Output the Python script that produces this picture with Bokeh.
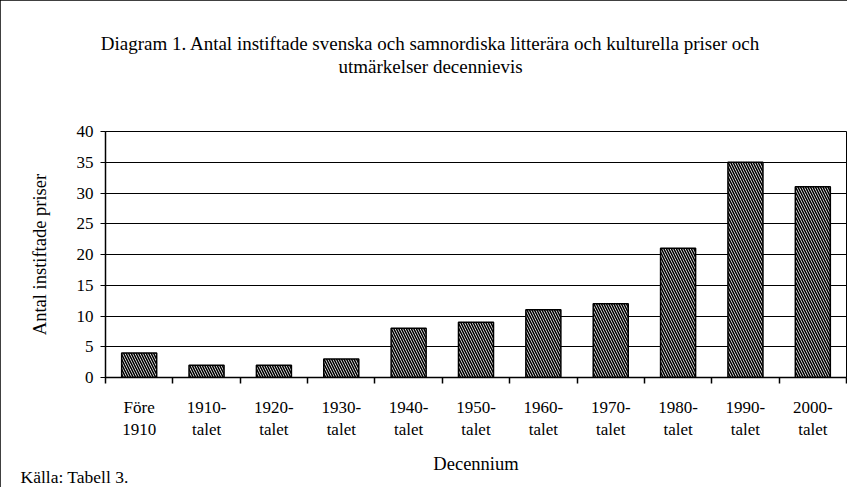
from bokeh.plotting import figure
from bokeh.models import Range1d, FixedTicker, Title
from bokeh.embed import file_html
from bokeh.resources import INLINE

categories = ["Före\n1910", "1910-\ntalet", "1920-\ntalet", "1930-\ntalet", "1940-\ntalet",
              "1950-\ntalet", "1960-\ntalet", "1970-\ntalet", "1980-\ntalet", "1990-\ntalet",
              "2000-\ntalet"]
values = [4, 2, 2, 3, 8, 9, 11, 12, 21, 35, 31]
y_ticks = [0, 5, 10, 15, 20, 25, 30, 35, 40]
title_lines = ["Diagram 1. Antal instiftade svenska och samnordiska litterära och kulturella priser och",
               "utmärkelser decennievis"]
y_label = "Antal instiftade priser"
x_label = "Decennium"
source_note = "Källa: Tabell 3."

FONT = "Liberation Serif"
FS = "17px"
FS_LAB = "18.5px"
n = len(categories)
xs = [i + 0.5 for i in range(n)]

p = figure(width=847, height=487, x_range=Range1d(0, n), y_range=Range1d(0, y_ticks[-1]),
           output_backend="svg", toolbar_location=None,
           min_border_left=105, min_border_right=1, min_border_top=131, min_border_bottom=110)
p.styles = {"outline": "2px solid black", "outline-offset": "-2px"}
p.background_fill_color = "white"
p.border_fill_color = "white"
p.outline_line_color = "black"
p.outline_line_width = 1

p.vbar(x=xs, top=values, width=0.52, fill_color="white", line_color="black", line_width=1.5,
       hatch_pattern="\\", hatch_color="black", hatch_scale=5, hatch_weight=1.6)

# y axis
p.yaxis.ticker = FixedTicker(ticks=y_ticks)
p.yaxis.axis_line_color = "black"
p.yaxis.axis_line_width = 1.5
p.yaxis.major_tick_in = 0
p.yaxis.major_tick_out = 5
p.yaxis.major_tick_line_color = "black"
p.yaxis.minor_tick_line_color = None
p.yaxis.major_label_standoff = 7
p.yaxis.major_label_text_font = FONT
p.yaxis.major_label_text_font_size = FS
p.yaxis.major_label_text_color = "black"
p.yaxis.axis_label = y_label
p.yaxis.axis_label_text_font = FONT
p.yaxis.axis_label_text_font_size = FS_LAB
p.yaxis.axis_label_text_font_style = "normal"
p.yaxis.axis_label_text_color = "black"
p.yaxis.axis_label_standoff = 24

# x axis
p.xaxis.ticker = FixedTicker(ticks=xs, minor_ticks=list(range(n + 1)))
p.xaxis.major_label_overrides = {x: c for x, c in zip(xs, categories)}
p.xaxis.axis_line_color = "black"
p.xaxis.axis_line_width = 1.5
p.xaxis.major_tick_in = 0
p.xaxis.major_tick_out = 0
p.xaxis.minor_tick_in = 0
p.xaxis.minor_tick_out = 6
p.xaxis.minor_tick_line_color = "black"
p.xaxis.minor_tick_line_width = 1.5
p.xaxis.major_label_standoff = 14
p.xaxis.major_label_text_font = FONT
p.xaxis.major_label_text_font_size = FS
p.xaxis.major_label_text_color = "black"
p.xaxis.axis_label = x_label
p.xaxis.axis_label_text_font = FONT
p.xaxis.axis_label_text_font_size = FS_LAB
p.xaxis.axis_label_text_font_style = "normal"
p.xaxis.axis_label_text_color = "black"
p.xaxis.axis_label_standoff = 12

p.xgrid.visible = False
p.ygrid.ticker = FixedTicker(ticks=y_ticks)
p.ygrid.grid_line_color = "black"
p.ygrid.grid_line_width = 1

# two-line title above the plot (first added sits closest to the frame)
p.add_layout(Title(text=title_lines[1], align="center", standoff=0,
                   padding=dict(left=0, right=91, top=0, bottom=55),
                   text_font=FONT, text_font_size="19px", text_font_style="normal",
                   text_line_height=1.05, text_color="black"), "above")
p.add_layout(Title(text=title_lines[0], align="center", standoff=0,
                   padding=dict(left=0, right=91, top=0, bottom=0),
                   text_font=FONT, text_font_size="19px", text_font_style="normal",
                   text_line_height=1.05, text_color="black"), "above")
# source note
p.add_layout(Title(text=source_note, align="left", offset=-85, standoff=-22, vertical_align="top",
                   text_font=FONT, text_font_size="17.5px", text_font_style="normal",
                   text_color="black"), "below")

open("out.html", "w").write(file_html(p, INLINE))
